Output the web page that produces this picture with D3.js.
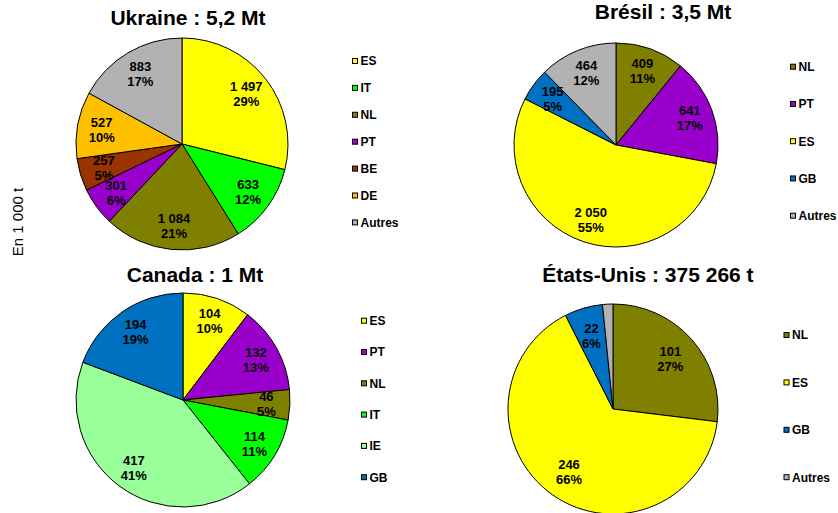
<!DOCTYPE html>
<html>
<head>
<meta charset="utf-8">
<script src="https://cdn.jsdelivr.net/npm/d3@7/dist/d3.min.js"></script>
<style>
  html, body { margin: 0; padding: 0; background: #fff; }
  svg { display: block; font-family: "Liberation Sans", Arial, sans-serif; }
</style>
</head>
<body>
<svg id="chart" width="838" height="513"></svg>
<script>
// Exports by destination country, in thousand tonnes
const ukraineTitle = "Ukraine : 5,2 Mt";
const ukraineCategories = ["ES", "IT", "NL", "PT", "BE", "DE", "Autres"];
const ukraineValues = [1497, 633, 1084, 301, 257, 527, 883];

const bresilTitle = "Brésil : 3,5 Mt";
const bresilCategories = ["NL", "PT", "ES", "GB", "Autres"];
const bresilValues = [409, 641, 2050, 195, 464];

const canadaTitle = "Canada : 1 Mt";
const canadaCategories = ["ES", "PT", "NL", "IT", "IE", "GB"];
const canadaValues = [104, 132, 46, 114, 417, 194];

const usaTitle = "États-Unis : 375 266 t";
const usaCategories = ["NL", "ES", "GB", "Autres"];
const usaValues = [101, 246, 22, 6];

const axisTitle = "En 1 000 t";

// One colour per destination, shared by all four pies
const colorDomain = ["ES", "IT", "NL", "PT", "BE", "DE", "GB", "IE", "Autres"];
const colorRange  = ["#FFFF00", "#00FF00", "#808000", "#9900CC", "#993300", "#FFC000", "#0070C0", "#99FF99", "#B2B2B2"];
const color = d3.scaleOrdinal().domain(colorDomain).range(colorRange);

// Panel layout: pie centre/radius, title anchor, legend anchor
const panels = [
  { title: ukraineTitle, cats: ukraineCategories, vals: ukraineValues,
    cx: 182, cy: 144, r: 106, tx: 188, ty: 25, lx: 352, ly: 61, lstep: 26.9, lk: 0.77 },
  { title: bresilTitle, cats: bresilCategories, vals: bresilValues,
    cx: 616, cy: 145, r: 102, tx: 663, ty: 19, lx: 790, ly: 66.7, lstep: 37.25, lk: 0.77 },
  { title: canadaTitle, cats: canadaCategories, vals: canadaValues,
    cx: 183, cy: 400, r: 107, tx: 195, ty: 282, lx: 361, ly: 320.7, lstep: 31.3, lk: 0.78 },
  { title: usaTitle, cats: usaCategories, vals: usaValues,
    cx: 613, cy: 409, r: 105, tx: 648, ty: 282, lx: 783.5, ly: 335, lstep: 47.4, lk: 0.73 }
];

const fmt = d3.formatLocale({ decimal: ",", thousands: " ", grouping: [3], currency: ["", " €"] }).format(",d");

const svg = d3.select("#chart");

// Vertical unit caption on the left
svg.append("text")
  .attr("transform", "translate(23,222) rotate(-90)")
  .attr("text-anchor", "middle")
  .attr("font-size", 15)
  .attr("fill", "#000")
  .text(axisTitle);

const pie = d3.pie().sort(null).value(d => d.value);

panels.forEach(p => {
  const data = p.cats.map((c, i) => ({ cat: c, value: p.vals[i] }));
  const total = d3.sum(data, d => d.value);
  const arcs = pie(data);
  const arc = d3.arc().innerRadius(0).outerRadius(p.r);
  const labelArc = d3.arc().innerRadius(p.r * p.lk).outerRadius(p.r * p.lk);

  const g = svg.append("g");

  g.append("text")
    .attr("x", p.tx).attr("y", p.ty)
    .attr("text-anchor", "middle")
    .attr("font-size", 21)
    .attr("font-weight", "bold")
    .attr("fill", "#000")
    .text(p.title);

  const pg = g.append("g").attr("transform", `translate(${p.cx},${p.cy})`);

  pg.selectAll("path.slice")
    .data(arcs)
    .join("path")
    .attr("class", "slice")
    .attr("d", arc)
    .attr("fill", d => color(d.data.cat))
    .attr("stroke", "#000")
    .attr("stroke-width", 1)
    .attr("stroke-linejoin", "round");

  // Value and share labels (tiny slices stay unlabelled)
  const lbl = pg.selectAll("text.lbl")
    .data(arcs.filter(d => d.data.value / total >= 0.03))
    .join("text")
    .attr("class", "lbl")
    .attr("transform", d => `translate(${labelArc.centroid(d)})`)
    .attr("text-anchor", "middle")
    .attr("font-size", 13)
    .attr("font-weight", "bold")
    .attr("fill", "#000");
  lbl.append("tspan").attr("x", 0).attr("dy", "-0.2em").text(d => fmt(d.data.value));
  lbl.append("tspan").attr("x", 0).attr("dy", "1.15em").text(d => Math.round(d.data.value / total * 100) + "%");

  // Legend
  const lg = g.append("g").selectAll("g")
    .data(p.cats)
    .join("g")
    .attr("transform", (d, i) => `translate(${p.lx},${p.ly + i * p.lstep})`);
  lg.append("rect")
    .attr("x", 0.5).attr("y", -2.5)
    .attr("width", 5).attr("height", 5)
    .attr("fill", d => color(d))
    .attr("stroke", "#000")
    .attr("stroke-width", 1);
  lg.append("text")
    .attr("x", 8.5).attr("y", 4.3)
    .attr("font-size", 12)
    .attr("font-weight", "bold")
    .attr("fill", "#000")
    .text(d => d);
});
</script>
</body>
</html>
